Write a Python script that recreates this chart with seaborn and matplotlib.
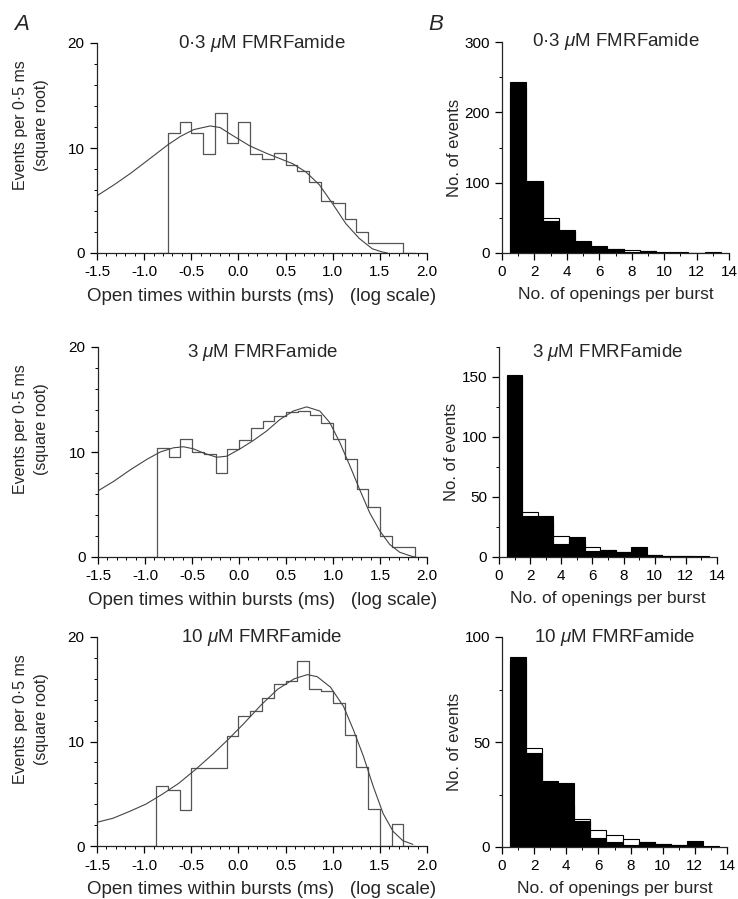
import numpy as np
import pandas as pd
import matplotlib
matplotlib.use("Agg")
import matplotlib.pyplot as plt
from matplotlib.ticker import MultipleLocator, FormatStrFormatter
import seaborn as sns

# ---------------- data ----------------
# Left column: open-time histograms (square-root ordinate), log10 bins of 0.125
bin_w = 0.125
open_start_03 = -0.75
open_sqrt_03 = [11.46, 12.5, 11.46, 9.43, 13.3, 10.45, 12.45, 9.43, 9.0, 9.55,
                8.4, 7.8, 6.75, 5.0, 4.8, 3.2, 2.0, 1.0, 1.0, 1.0]
open_start_3 = -0.875
open_sqrt_3 = [10.4, 9.5, 11.2, 10.0, 9.8, 8.0, 10.3, 11.1, 12.3, 13.0, 13.4,
               13.8, 13.9, 13.5, 12.8, 11.2, 9.3, 6.5, 4.8, 2.0, 0.95, 0.95]
open_start_10 = -0.875
open_sqrt_10 = [5.75, 5.4, 3.45, 7.5, 7.5, 7.5, 10.55, 12.45, 12.9, 14.15, 15.5,
                15.75, 17.7, 15.0, 14.8, 13.7, 10.6, 7.6, 3.5, 0.0, 2.1]

# fitted curves
fit_x_03 = [-1.5, -1.318, -1.142, -0.967, -0.749, -0.616, -0.475, -0.30, -0.195,
            -0.054, 0.121, 0.296, 0.437, 0.577, 0.718, 0.858, 0.998, 1.139, 1.28,
            1.42, 1.525, 1.58]
fit_y_03 = [5.45, 6.5, 7.6, 8.8, 10.3, 11.1, 11.75, 12.1, 11.95, 11.15, 10.2, 9.5,
            9.0, 8.5, 7.7, 6.5, 4.7, 2.8, 1.4, 0.4, 0.1, 0.0]
fit_x_3 = [-1.5, -1.334, -1.157, -0.98, -0.838, -0.697, -0.59, -0.484, -0.378,
           -0.237, -0.13, 0.011, 0.153, 0.294, 0.436, 0.577, 0.719, 0.86, 0.966,
           1.073, 1.179, 1.285, 1.391, 1.497, 1.603, 1.71, 1.816, 1.869]
fit_y_3 = [6.3, 7.2, 8.3, 9.3, 10.0, 10.4, 10.5, 10.3, 9.9, 9.5, 9.6, 10.3, 11.1,
           12.0, 13.1, 13.9, 14.3, 13.9, 12.8, 10.9, 8.7, 6.4, 4.2, 2.5, 1.2, 0.45,
           0.13, 0.0]
fit_x_10 = [-1.5, -1.332, -1.157, -0.983, -0.808, -0.633, -0.458, -0.283, -0.108,
            0.066, 0.241, 0.416, 0.591, 0.731, 0.836, 0.976, 1.115, 1.22, 1.325,
            1.43, 1.535, 1.64, 1.745, 1.85]
fit_y_10 = [2.27, 2.65, 3.3, 4.0, 4.95, 6.0, 7.3, 8.7, 10.2, 11.8, 13.5, 15.0, 16.0,
            16.4, 16.2, 15.2, 13.35, 11.1, 8.6, 5.7, 3.1, 1.4, 0.5, 0.16]

# Right column: openings per burst
openings = list(range(1, 14))
obs_03 = [243, 102.7, 45.8, 32.5, 15.3, 9.6, 6.2, 1.4, 2.9, 0.5, 0.5, 0.5, 1.9]
fit_03 = [235, 100, 49.2, 30, 17.2, 9.0, 6.0, 3.8, 2.5, 1.6, 1.0, 0.7, 0.5]
obs_3 = [152, 34, 34, 10.5, 16.5, 5.0, 6.0, 4.0, 8.0, 1.6, 1.0, 0.5, 0.0]
fit_3 = [150, 37.4, 30, 17.7, 12, 8.2, 5.5, 3.8, 2.5, 1.8, 1.2, 0.8, 0.5]
obs_10 = [90.3, 45.0, 31.2, 30.4, 12.5, 4.3, 2.4, 1.0, 2.6, 1.6, 0.8, 2.9, 0.0]
fit_10 = [88, 47.1, 28, 20, 13.1, 8.3, 5.6, 4.0, 2.5, 1.6, 1.0, 0.6, 0.4]

titles = ["0·3 $\\mu$M FMRFamide", "3 $\\mu$M FMRFamide", "10 $\\mu$M FMRFamide"]
left_xlabel = "Open times within bursts (ms)   (log scale)"
left_ylabel = "Events per 0·5 ms\n(square root)"
right_xlabel = "No. of openings per burst"
right_ylabel = "No. of events"

# ---------------- style ----------------
sns.set_style("ticks")
plt.rcParams["font.family"] = ["Liberation Sans", "DejaVu Sans"]
plt.rcParams["mathtext.fontset"] = "custom"
plt.rcParams["mathtext.it"] = "Liberation Sans:italic"
plt.rcParams["mathtext.rm"] = "Liberation Sans"
plt.rcParams["axes.linewidth"] = 0.9
for k in ("xtick", "ytick"):
    plt.rcParams[f"{k}.major.size"] = 5
    plt.rcParams[f"{k}.minor.size"] = 2.5
    plt.rcParams[f"{k}.major.width"] = 0.9
    plt.rcParams[f"{k}.minor.width"] = 0.7
    plt.rcParams[f"{k}.labelsize"] = 11
    plt.rcParams[f"{k}.color"] = "black"

W, H = 738, 899
fig = plt.figure(figsize=(W / 100, H / 100), dpi=100)


def ax_px(x0, x1, ytop, ybot):
    return fig.add_axes([x0 / W, 1 - ybot / H, (x1 - x0) / W, (ybot - ytop) / H])


left_boxes = [(97, 427, 43, 253), (98, 427, 347, 557), (97, 427, 637, 846)]
right_boxes = [(502, 729, 42, 253), (499, 717, 347, 557), (502, 727, 637, 847)]
right_ylims = [300, 175, 100]
right_major = [100, 50, 50]
right_minor = [50, 25, 25]
title_y = [1.0, 0.975, 1.0]

left_sets = [(open_start_03, open_sqrt_03, fit_x_03, fit_y_03),
             (open_start_3, open_sqrt_3, fit_x_3, fit_y_3),
             (open_start_10, open_sqrt_10, fit_x_10, fit_y_10)]
right_sets = [(obs_03, fit_03), (obs_3, fit_3), (obs_10, fit_10)]

for i in range(3):
    # ---- left panel ----
    ax = ax_px(*left_boxes[i])
    start, vals, fx, fy = left_sets[i]
    vals = np.asarray(vals, float)
    n = len(vals)
    edges = list(start + bin_w * np.arange(-1, n + 2))
    padded = np.r_[0.0, vals, 0.0]
    hdf = pd.DataFrame({"x": np.asarray(edges[:-1]) + bin_w / 2, "w": padded})
    sns.histplot(data=hdf, x="x", weights="w", bins=edges, element="step",
                 fill=False, color="#555555", linewidth=0.9, ax=ax)
    fdf = pd.DataFrame({"x": fx, "y": fy})
    sns.lineplot(data=fdf, x="x", y="y", ax=ax, color="#444444", linewidth=0.8,
                 sort=False, estimator=None)
    ax.set_xlim(-1.5, 2.0)
    ax.set_ylim(0, 20)
    ax.xaxis.set_major_locator(MultipleLocator(0.5))
    ax.xaxis.set_minor_locator(MultipleLocator(0.1))
    ax.yaxis.set_major_locator(MultipleLocator(10))
    ax.yaxis.set_minor_locator(MultipleLocator(2))
    ax.xaxis.set_major_formatter(FormatStrFormatter("%.1f"))
    ax.set_xlabel(left_xlabel, fontsize=13.5, labelpad=6)
    ax.set_ylabel("")
    x0, x1, yt, yb = left_boxes[i]
    fig.text(31 / W, 1 - (yt + 82) / H, left_ylabel, rotation=90, ha="center",
             va="center", fontsize=11.5, linespacing=1.45, multialignment="center")
    ax.text(0.5, title_y[i], titles[i], transform=ax.transAxes, ha="center",
            va="center", fontsize=13.5)
    sns.despine(ax=ax)
    ax.tick_params(axis="both", which="both", direction="out")
    ax.tick_params(axis="both", which="major", pad=4)

    # ---- right panel ----
    ax2 = ax_px(*right_boxes[i])
    obs, fit = right_sets[i]
    redges = list(np.arange(0.5, 14.5, 1.0))
    rdf = pd.DataFrame({"n": openings, "obs": obs, "fit": fit})
    sns.histplot(data=rdf, x="n", weights="fit", bins=redges, color="white",
                 alpha=1, edgecolor="black", linewidth=0.8, ax=ax2)
    sns.histplot(data=rdf, x="n", weights="obs", bins=redges, color="black",
                 alpha=1, edgecolor="black", linewidth=0.8, ax=ax2)
    ax2.set_xlim(0, 14)
    ax2.set_ylim(0, right_ylims[i])
    ax2.xaxis.set_major_locator(MultipleLocator(2))
    ax2.xaxis.set_minor_locator(MultipleLocator(1))
    ax2.yaxis.set_major_locator(MultipleLocator(right_major[i]))
    ax2.yaxis.set_minor_locator(MultipleLocator(right_minor[i]))
    ax2.set_xlabel(right_xlabel, fontsize=12.5, labelpad=6)
    ax2.set_ylabel(right_ylabel, fontsize=12, labelpad=2)
    ax2.text(0.5, title_y[i], titles[i], transform=ax2.transAxes, ha="center",
             va="center", fontsize=13.5)
    sns.despine(ax=ax2)
    ax2.tick_params(axis="both", which="both", direction="out")

fig.text(14 / W, 1 - 24 / H, "A", fontsize=16, style="italic", ha="left", va="center")
fig.text(428 / W, 1 - 24 / H, "B", fontsize=16, style="italic", ha="left", va="center")

fig.savefig("out.png", dpi=100)
